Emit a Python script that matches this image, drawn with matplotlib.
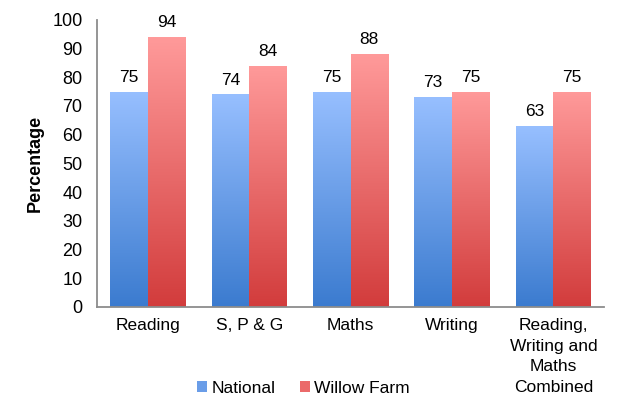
import numpy as np
import matplotlib.pyplot as plt
from matplotlib.colors import LinearSegmentedColormap
from matplotlib.patches import Patch

plt.rcParams['font.family'] = ['Liberation Sans', 'DejaVu Sans']

# 科目と割合
categories = ["Reading", "S, P & G", "Maths", "Writing",
              "Reading,\nWriting and\nMaths\nCombined"]
national = [75, 74, 75, 73, 63]
willow_farm = [94, 84, 88, 75, 75]

# グラデーション色（下 -> 上）
blue_cmap = LinearSegmentedColormap.from_list("blue", ["#3b7bcf", "#97bfff"])
red_cmap = LinearSegmentedColormap.from_list("red", ["#d23c3c", "#ff9a9a"])


def fill_gradient(ax, bars, cmap):
    grad = np.linspace(0, 1, 256).reshape(-1, 1)
    for b in bars:
        x0, y0 = b.get_x(), b.get_y()
        w, h = b.get_width(), b.get_height()
        im = ax.imshow(grad, extent=[x0, x0 + w, y0, y0 + h], origin="lower",
                       cmap=cmap, aspect="auto", zorder=2)
        im.set_clip_path(b)


fig = plt.figure(figsize=(6.26, 4.13), dpi=100)
ax = fig.add_axes([0.155, 0.257, 0.81, 0.695])

x = np.arange(len(categories))
width = 0.37
bars1 = ax.bar(x - width / 2, national, width, color="none", edgecolor="none", zorder=2)
bars2 = ax.bar(x + width / 2, willow_farm, width, color="none", edgecolor="none", zorder=2)
fill_gradient(ax, bars1, blue_cmap)
fill_gradient(ax, bars2, red_cmap)

ax.bar_label(bars1, padding=5, fontsize=12.5)
ax.bar_label(bars2, padding=5, fontsize=12.5)

ax.set_xlim(-0.5, len(categories) - 0.5)
ax.set_ylim(0, 100)
ax.set_yticks(range(0, 101, 10))
ax.set_xticks(x)
ax.set_xticklabels(categories, fontsize=12.5)
for lbl in ax.get_xticklabels():
    lbl.set_linespacing(1.47)
ax.tick_params(axis="both", length=0)
ax.tick_params(axis="x", pad=8, labelsize=12.5)
ax.tick_params(axis="y", pad=10.5, labelsize=13)

for s in ["top", "right"]:
    ax.spines[s].set_visible(False)
for s in ["left", "bottom"]:
    ax.spines[s].set_color("#8c8c8c")
    ax.spines[s].set_linewidth(1.3)

ax.set_ylabel("Percentage", fontsize=13, fontweight="bold", labelpad=6)

handles = [Patch(facecolor="#6a9de8", label="National"),
           Patch(facecolor="#eb6a6a", label="Willow Farm")]
fig.legend(handles=handles, loc="center", bbox_to_anchor=(0.485, 0.06), ncol=2,
           frameon=False, fontsize=12.5, handlelength=0.55, handleheight=0.55,
           handletextpad=0.25, columnspacing=1.45)

fig.savefig("out.png", dpi=100)
